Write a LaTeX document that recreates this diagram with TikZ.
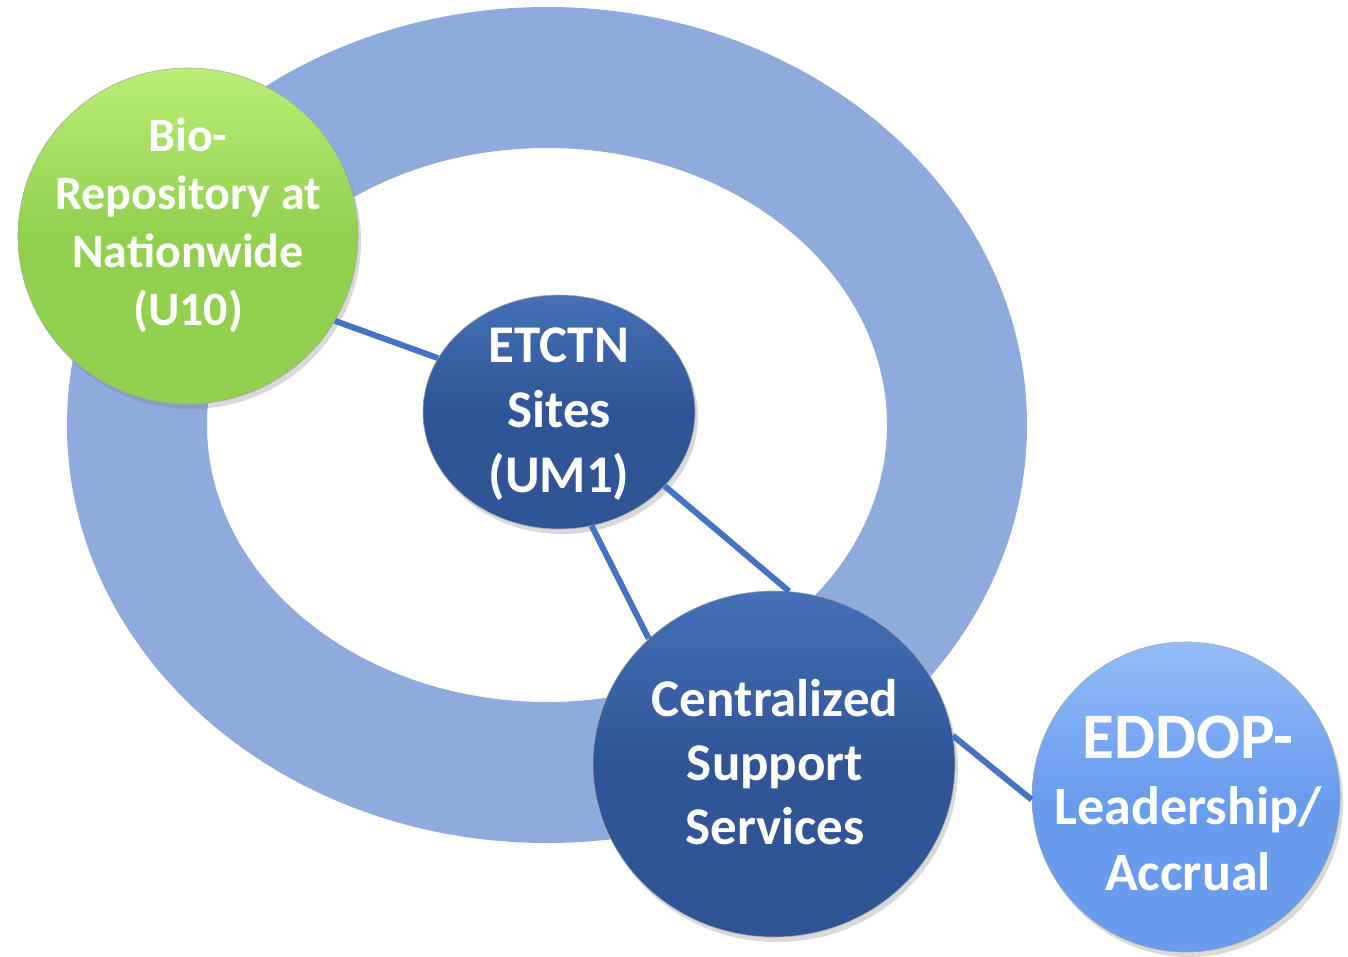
\documentclass[tikz,border=0pt]{standalone}
\usepackage{fontspec}
\setmainfont{Carlito}
\usepackage{tikz}
\usetikzlibrary{shapes.geometric,shadows}

\definecolor{ringblue}{HTML}{8FAADC}
\definecolor{linkblue}{HTML}{4472C4}
\definecolor{darkdisc}{HTML}{2F5597}
\definecolor{darktop}{HTML}{4570B5}
\definecolor{greendisc}{HTML}{92D050}
\definecolor{greentop}{HTML}{B8EE74}
\definecolor{lightdisc}{HTML}{6A9CEE}
\definecolor{lighttop}{HTML}{93BCF8}

\tikzset{
	disc/.style={ellipse, inner sep=0pt, draw=black!35, line width=0.3pt,
		drop shadow={opacity=0.3, shadow xshift=1.5pt, shadow yshift=-2.5pt}},
	darkball/.style={disc, top color=darktop, bottom color=darkdisc, middle color=darkdisc},
	greenball/.style={disc, top color=greentop, bottom color=greendisc, middle color=greendisc},
	lightball/.style={disc, top color=lighttop, bottom color=lightdisc, middle color=lightdisc},
	lbl/.style={text=white, align=center, inner sep=0pt},
	link/.style={draw=linkblue, line width=3pt}
}

\begin{document}
\begin{tikzpicture}[x=0.5pt, y=-0.5pt]
		\useasboundingbox (0,0) rectangle (1348,957);
		\fill[ringblue, even odd rule] (547,425) ellipse [x radius=480, y radius=418]
			(547,425) ellipse [x radius=340, y radius=277];

		\node[greenball, minimum width=170pt, minimum height=168pt] (bio) at (188,236) {};
		\node[darkball, minimum width=136pt, minimum height=117pt] (etctn) at (559,412) {};
		\node[darkball, minimum width=181pt, minimum height=173pt] (css) at (774,764) {};
		\node[lightball, minimum width=154pt, minimum height=155pt] (eddop) at (1186,797) {};

		\node[lbl, font=\bfseries\fontsize{24}{29}\selectfont] (bio-t) at (188,225) {Bio-\\Repository at\\Nationwide\\(U10)};
		\node[lbl, font=\bfseries\fontsize{26.5}{32.5}\selectfont] (etctn-t) at (559,414) {ETCTN\\Sites\\(UM1)};
		\node[lbl, font=\bfseries\fontsize{26.5}{32}\selectfont] (css-t) at (775,762) {Centralized\\Support\\Services};
		\node[lbl, font=\bfseries\fontsize{27}{33}\selectfont] (eddop-t) at (1188,803) {{\fontsize{32.5}{34}\selectfont EDDOP-}\\Leadership/\\Accrual};

		\draw[link] (bio.-30) -- (etctn.156);
		\draw[link] (etctn.-74) -- (css.135);
		\draw[link] (etctn.-35) -- (css.85);
		\draw[link] (css.9) -- (eddop.181);
	\end{tikzpicture}
\end{document}
